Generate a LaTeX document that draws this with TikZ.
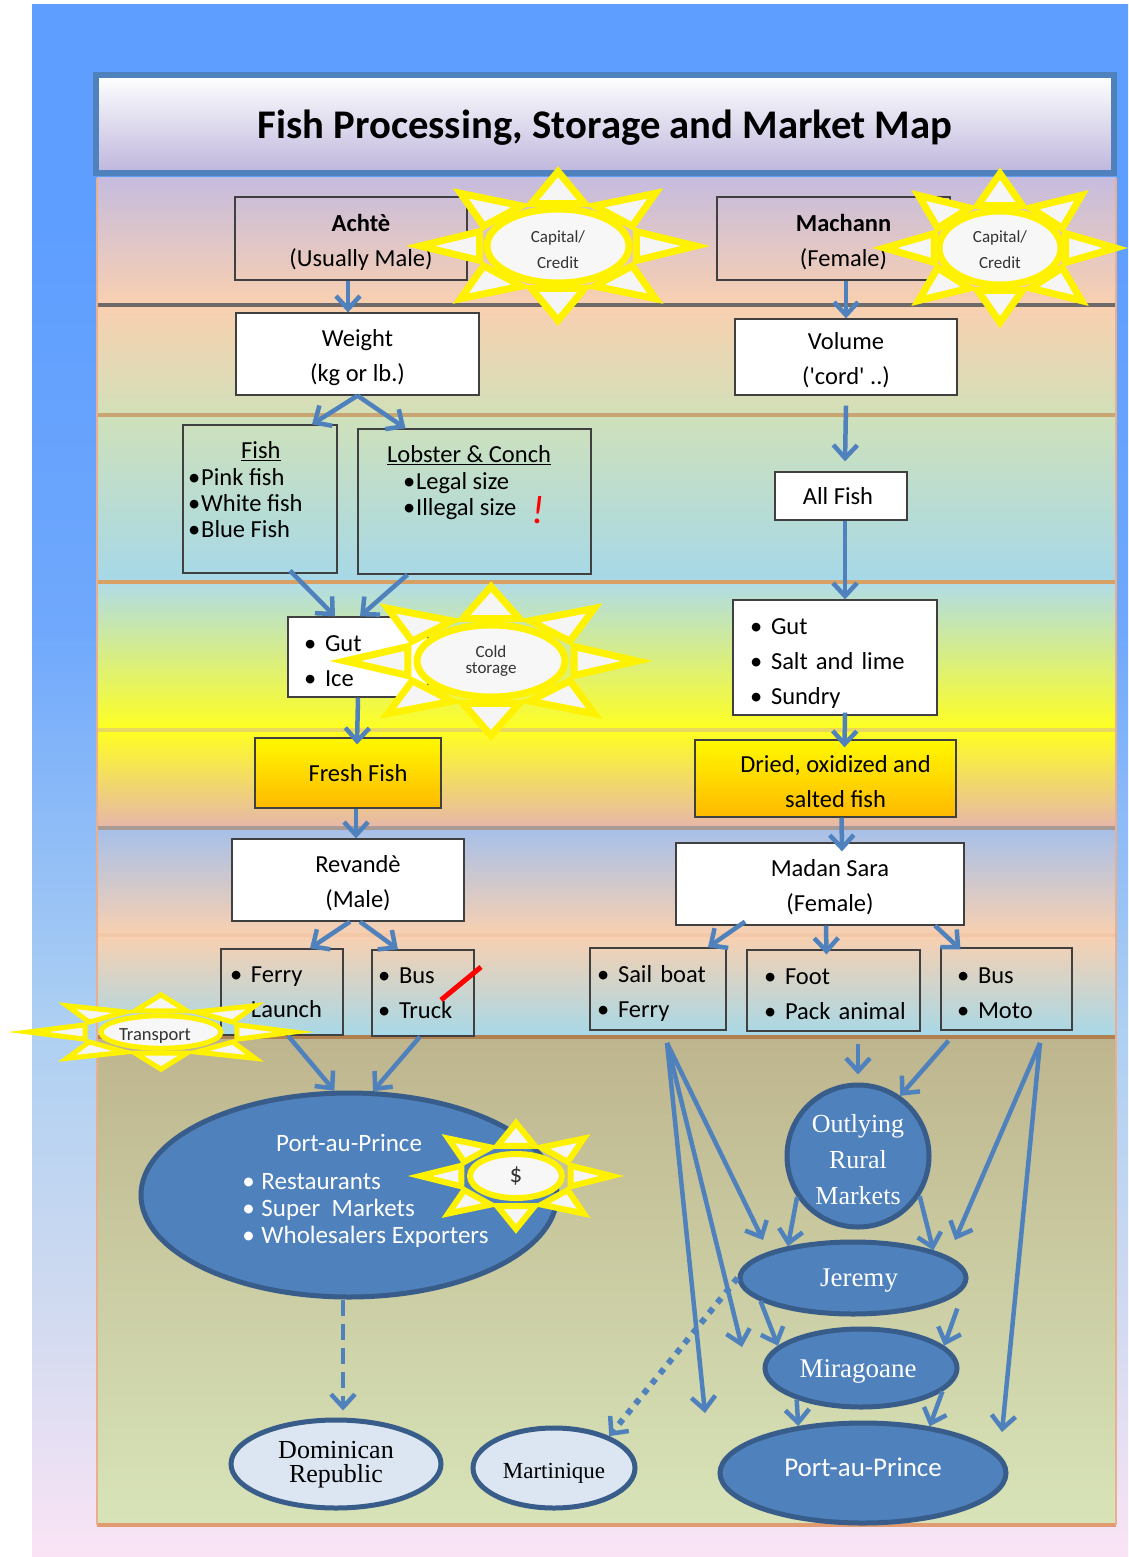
\documentclass[tikz,border=0pt]{standalone}
\usepackage{fontspec}
\setmainfont{Carlito}
\newfontfamily\serifnames{Liberation Serif}
\usetikzlibrary{arrows.meta,shapes.geometric}
\definecolor{mapblue}{HTML}{4F81BD}
\definecolor{mapdeep}{HTML}{385D8A}
\definecolor{foreignfill}{HTML}{DCE6F2}
\definecolor{titlebase}{HTML}{BEB6DC}
\definecolor{panelside}{HTML}{E8B090}
\definecolor{sky}{HTML}{5E9EFF}
\definecolor{skya}{HTML}{6FA8FC}
\definecolor{skyb}{HTML}{AED0F2}
\definecolor{skyc}{HTML}{D0DAF0}
\definecolor{skyd}{HTML}{FAE4F5}
\pgfdeclareverticalshading{pagesky}{100bp}{color(0bp)=(skyd); color(25bp)=(skyd); color(33bp)=(skyc); color(42bp)=(skyb); color(55bp)=(skya); color(68bp)=(sky); color(100bp)=(sky)}
\newcommand{\bul}[1][0]{\hspace*{#1pt}\makebox[21pt][l]{\textbullet}}
\newcommand{\off}{\hspace*{20pt}}
\newcommand{\drop}{\rule{0pt}{24pt}}
\tikzset{
    map box/.style={rectangle,draw=black!75,line width=1.3pt,inner sep=0,font=\fontsize{24.5}{35}\selectfont,align=center},
    white box/.style={map box,fill=white},
    gold box/.style={map box,top color=yellow!95!orange,bottom color=orange!55!yellow},
    list text/.style={inner sep=0,align=left,anchor=north west,font=\fontsize{24.5}{26}\selectfont},
    market/.style={ellipse,draw=mapdeep,fill=mapblue,line width=5pt,inner sep=0,text=white,align=center},
    foreign/.style={market,fill=foreignfill,text=black},
    map edge/.style={draw=mapblue,line width=4.5pt,-{Straight Barb[length=13pt,width=24pt,line width=4.5pt]}},
    sun ray/.style={draw=yellow,fill=black!4},
    sun core/.style={ellipse,draw=yellow,fill=black!3,inner sep=0,align=center,text=black!80},
    pics/sun/.style n args={6}{code={
        \begin{scope}[xscale=#1,yscale=#2]
            \foreach \a in {0,45,...,315}
                \draw[sun ray,rotate=\a] (.93,0) -- (.53,.18) -- (.53,-.18) -- cycle;
        \end{scope}
        \node[sun core,minimum width=#3,minimum height=#4,font=#5] (-core) at (0,0) {#6};
    }}
}

\begin{document}
\begin{tikzpicture}[x=1pt,y=-1pt]
            \useasboundingbox (0,0) rectangle (1128,1557);
            \fill[white] (0,0) rectangle (1128,1557);
            \shade[shading=pagesky] (32,5) rectangle (1128,1557);
            \foreach \ya/\yb/\ca/\cb in {
                178/305/C6BCDE/F9D0B0,
                305/415/F9D0B0/D2E0B8,
                415/582/CFE1BA/A6D8E8,
                582/730/B0DCE8/FFFF20,
                730/828/FFFF20/E6B6AC,
                828/935/A6C0EA/F9D0B0,
                935/1037/F9D0B0/A6D8E8,
                1037/1525/BEB58E/D8E4B8}{
                \definecolor{bandtop}{HTML}{\ca}
                \definecolor{bandbottom}{HTML}{\cb}
                \shade[top color=bandtop,bottom color=bandbottom] (97,\ya) rectangle (1116,\yb);
            }
            \foreach \yb/\cl in {305/6F6A6A,415/C9A574,582/D9A064,730/E8D860,828/A89A94,935/F2C8A8,1037/B08050,1525/E09C70}{
                \definecolor{bandline}{HTML}{\cl}
                \draw[bandline,line width=3.5pt] (97,\yb) -- (1116,\yb);
            }
            \draw[panelside,line width=2pt] (97,178) -- (97,1525) (1116,178) -- (1116,1525);
            \node[rectangle,draw=mapblue,line width=6pt,top color=white,bottom color=titlebase,minimum width=1018,minimum height=98,inner sep=0,font=\fontsize{40.7}{44}\selectfont\bfseries] (title) at (605,124) {\rule{0pt}{36pt}Fish Processing, Storage and Market Map};
            \node[map box,minimum width=232,minimum height=83] (achte) at (351,238.5) {\off\drop\textbf{Achtè}\\\off(Usually Male)};
            \node[map box,minimum width=233,minimum height=83] (machann) at (833.5,238.5) {\off\drop\textbf{Machann}\\\off(Female)};
            \node[white box,minimum width=243,minimum height=82] (weight) at (357.5,354) {\drop Weight\\(kg or lb.)};
            \node[white box,minimum width=222,minimum height=76] (volume) at (846,357) {\drop Volume\\(\textquotesingle cord\textquotesingle\ ..)};
            \node[map box,minimum width=154,minimum height=148] (fish) at (260,499) {};
            \node[list text] (fishlist) at (188,441) {\hspace*{53pt}\underline{Fish}\\[1pt]\makebox[13pt][l]{\textbullet}Pink fish\\\makebox[13pt][l]{\textbullet}White fish\\\makebox[13pt][l]{\textbullet}Blue Fish};
            \node[map box,minimum width=233,minimum height=145] (lobster) at (474.5,501.5) {};
            \node[list text] (lobsterlist) at (387,445) {\underline{Lobster \& Conch}\\[1pt]\hspace*{16pt}\makebox[13pt][l]{\textbullet}Legal size\\\hspace*{16pt}\makebox[13pt][l]{\textbullet}Illegal size};
            \node[white box,minimum width=132,minimum height=48] (allfish) at (841,496) {\hspace*{-6pt}All Fish};
            \node[white box,minimum width=140,minimum height=80,text width=124,inner xsep=8pt,align=left] (gutice) at (358,657) {\drop\bul[8]Gut\\\bul[8]Ice};
            \node[white box,minimum width=204,minimum height=115,text width=188,inner xsep=8pt,inner ysep=0,align=left] (gutsalt) at (835,657.5) {\rule{0pt}{28pt}\bul[9]Gut\\\bul[9]Salt and lime\\\bul[9]Sundry};
            \node[gold box,minimum width=186,minimum height=70] (fresh) at (348,773) {\off Fresh Fish};
            \node[gold box,minimum width=261,minimum height=77] (dried) at (825.5,778.5) {\off\drop Dried, oxidized and\\\off salted fish};
            \node[white box,minimum width=232,minimum height=82] (revande) at (348,880) {\off\drop Revandè\\\off(Male)};
            \node[white box,minimum width=288,minimum height=82] (madan) at (820,884) {\off\drop Madan Sara\\\off(Female)};
            \node[map box,minimum height=86,text width=106,inner xsep=8pt,align=left] (ferry) at (282,992) {\bul[1]Ferry\\\bul[1]Launch};
            \node[map box,minimum height=86,text width=86,inner xsep=8pt,align=left] (bus) at (423,993) {\bul[-2]Bus\\\bul[-2]Truck};
            \node[map box,minimum height=82,text width=120,inner xsep=8pt,align=left] (sail) at (658,989) {\rule{0pt}{26pt}\bul[-1]Sail boat\\\bul[-1]Ferry};
            \node[map box,minimum height=81,text width=157,inner xsep=8pt,align=left] (foot) at (833.5,990.5) {\drop\bul[9]Foot\\\bul[9]Pack animal};
            \node[map box,minimum height=82,text width=115,inner xsep=8pt,align=left] (busmoto) at (1006.5,989) {\drop\bul[8]Bus\\\bul[8]Moto};
            \node[market,minimum width=416,minimum height=204,font=\fontsize{25}{27}\selectfont] (ppleft) at (349,1195) {Port-au-Prince\\[18pt]\hspace*{33pt}\begin{tabular}{@{}l@{}}\makebox[19pt][l]{\textbullet}Restaurants\\\makebox[19pt][l]{\textbullet}Super\ \ Markets\\\makebox[19pt][l]{\textbullet}Wholesalers Exporters\end{tabular}\\[4pt]};
            \node[market,circle,minimum size=142,font=\fontsize{26}{36}\selectfont\serifnames] (outlying) at (858,1156) {\rule{0pt}{26pt}Outlying\\Rural\\Markets};
            \node[market,minimum width=226,minimum height=72,font=\fontsize{27}{30}\selectfont\serifnames] (jeremy) at (853,1278) {\hspace*{12pt}\rule{0pt}{22pt}Jeremy};
            \node[market,minimum width=192,minimum height=78,font=\fontsize{27}{30}\selectfont\serifnames] (miragoane) at (861,1368) {\rule{0pt}{24pt}\hspace*{-6pt}Miragoane};
            \node[market,minimum width=286,minimum height=100,font=\fontsize{27}{30}\selectfont] (ppright) at (863,1473) {\rule[-12pt]{0pt}{1pt}Port-au-Prince};
            \node[foreign,minimum width=210,minimum height=88,font=\fontsize{26}{24}\selectfont\serifnames] (dominican) at (336,1464) {\rule{0pt}{18pt}Dominican\\Republic};
            \node[foreign,minimum width=162,minimum height=80,font=\fontsize{23}{26}\selectfont\serifnames] (martinique) at (554,1468) {\rule{0pt}{26pt}Martinique};
            \node[text=red,font=\fontsize{40}{40}\selectfont\itshape,inner sep=0] (illegal) at (538,510) {!};
            \draw[red,line width=5pt] (441,1000) -- (481,967);
            \coordinate (fanleft) at (667,1043);
            \coordinate (fanleftA) at (763,1240);
            \coordinate (fanleftB) at (742,1347);
            \coordinate (fanleftC) at (705,1413);
            \coordinate (fanright) at (1040,1043);
            \coordinate (fanrightA) at (955,1240);
            \coordinate (fanrightB) at (1002,1432);
            \path
                ([xshift=-3pt]achte.south) edge[map edge] ([xshift=-9.5pt]weight.north)
                ([xshift=12.5pt]machann.south) edge[map edge] (volume.north)
                (weight.south) edge[map edge] ([xshift=52pt]fish.north)
                (weight.south) edge[map edge] ([xshift=-69pt]lobster.north)
                ([yshift=-10pt]volume.south) edge[map edge] ([xshift=4pt,yshift=10pt]allfish.north)
                ([xshift=4pt]allfish.south) edge[map edge] ([xshift=10pt]gutsalt.north)
                ([xshift=30pt,yshift=3pt]fish.south) edge[map edge] ([xshift=-23pt]gutice.north)
                ([xshift=-67pt]lobster.south) edge[map edge] ([xshift=2pt]gutice.north)
                (gutice.south) edge[map edge] ([xshift=9pt,yshift=-7pt]fresh.north)
                ([xshift=10pt,yshift=3pt]gutsalt.south) edge[map edge] ([xshift=19pt,yshift=-8pt]dried.north)
                ([xshift=8pt]fresh.south) edge[map edge] ([xshift=8pt]revande.north)
                ([xshift=16pt]dried.south) edge[map edge] ([xshift=22pt,yshift=-9pt]madan.north)
                ([xshift=2pt]revande.south) edge[map edge] ([xshift=28pt]ferry.north)
                ([xshift=12pt]revande.south) edge[map edge] ([xshift=-25pt]bus.north)
                ([xshift=-75pt,yshift=4pt]madan.south) edge[map edge] ([xshift=50pt]sail.north)
                ([xshift=6pt]madan.south) edge[map edge] ([xshift=-7pt,yshift=-5pt]foot.north)
                ([xshift=115pt]madan.south) edge[map edge] ([xshift=-46pt,yshift=-2pt]busmoto.north)
                ([xshift=6pt]ferry.south) edge[map edge] (ppleft.98)
                ([xshift=-3pt]bus.south) edge[map edge] (ppleft.77)
                ([xshift=24.5pt,yshift=-12pt]foot.south) edge[map edge] ([yshift=8pt]outlying.north)
                ([xshift=-58pt,yshift=-10pt]busmoto.south) edge[map edge] (outlying.55)
                (fanleft) edge[map edge] (fanleftA)
                (fanleft) edge[map edge] (fanleftB)
                (fanleft) edge[map edge] (fanleftC)
                (fanright) edge[map edge] (fanrightA)
                (fanright) edge[map edge] (fanrightB)
                (outlying.214) edge[map edge] (jeremy.154)
                (outlying.-33) edge[map edge] (jeremy.19)
                (jeremy.194) edge[map edge] (miragoane.165)
                ([yshift=-14pt]jeremy.-9) edge[map edge] (miragoane.15)
                (miragoane.206) edge[map edge] (ppright.144)
                (miragoane.-16) edge[map edge] (ppright.35)
                ;
            \path ([xshift=-6pt]ppleft.south) edge[map edge,dash pattern=on 16pt off 8pt] ([xshift=7pt,yshift=7pt]dominican.north);
            \path (jeremy.west) edge[map edge,line width=6pt,dash pattern=on 6pt off 7pt] (martinique.30);
            \pic[line width=7pt] at (558,246) {sun={148}{80}{142}{74}{\fontsize{17}{26}\selectfont}{\rule{0pt}{20pt}Capital/\\Credit}};
            \pic[line width=7pt] at (1000,248) {sun={124}{80}{122}{74}{\fontsize{17}{26}\selectfont}{\rule{0pt}{16pt}Capital/\\Credit}};
            \pic[line width=7pt] at (491,661) {sun={157}{80}{148}{72}{\fontsize{17}{16}\selectfont}{Cold\\storage}};
            \pic[line width=5pt] at (161,1032) {sun={143}{40}{120}{28}{\fontsize{18.5}{20}\selectfont}{\rule{0pt}{20pt}Transport\hspace*{12pt}}};
            \pic[line width=6pt] at (516,1176) {sun={103}{57}{92}{44}{\fontsize{25}{26}\selectfont}{\$}};
        \end{tikzpicture}
\end{document}
